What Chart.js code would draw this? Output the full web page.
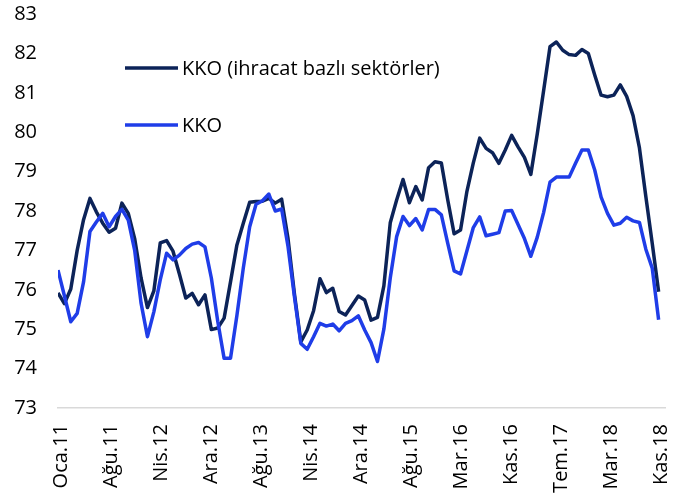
<!DOCTYPE html>
<html><head><meta charset="utf-8">
<script src="https://cdn.jsdelivr.net/npm/chart.js@4/dist/chart.umd.min.js"></script>
<style>html,body{margin:0;padding:0;background:#fff}#wrap{width:684px;height:493px}</style>
</head><body><div id="wrap"><canvas id="c" width="684" height="493"></canvas></div>
<script>
const monthNames = ['Oca','Şub','Mar','Nis','May','Haz','Tem','Ağu','Eyl','Eki','Kas','Ara'];
const years = [11,12,13,14,15,16,17,18];
const categories = [];
years.forEach(y => monthNames.forEach((m, k) => { if (!(y === 18 && k > 10)) categories.push(m + '.' + y); }));

const tickLabels = ['Oca.11','Ağu.11','Nis.12','Ara.12','Ağu.13','Nis.14','Ara.14','Ağu.15','Mar.16','Kas.16','Tem.17','Mar.18','Kas.18'];
const yTicks = [73,74,75,76,77,78,79,80,81,82,83];

const seriesNames = ['KKO (ihracat bazlı sektörler)', 'KKO'];

const kkoIhracat = [75.92,75.65,76.02,77.0,77.78,78.32,77.98,77.69,77.46,77.56,
78.2,77.94,77.3,76.3,75.55,75.97,77.19,77.25,76.98,76.4,
75.79,75.91,75.62,75.87,74.99,75.03,75.28,76.2,77.14,77.69,
78.22,78.24,78.25,78.32,78.2,78.3,77.3,75.9,74.68,74.98,
75.47,76.28,75.93,76.04,75.45,75.36,75.6,75.84,75.74,75.23,
75.3,76.1,77.7,78.28,78.8,78.21,78.62,78.28,79.1,79.25,
79.22,78.28,77.42,77.52,78.5,79.22,79.85,79.59,79.48,79.21,
79.55,79.92,79.63,79.36,78.93,79.95,81.05,82.17,82.29,82.08,
81.97,81.95,82.1,82.0,81.45,80.94,80.9,80.94,81.2,80.91,
80.42,79.6,78.37,77.18,75.95];

const kko = [76.5,75.85,75.19,75.4,76.2,77.48,77.72,77.94,77.6,77.86,
78.04,77.77,77.0,75.66,74.81,75.44,76.25,76.93,76.76,76.88,
77.05,77.16,77.2,77.09,76.3,75.2,74.26,74.26,75.35,76.55,
77.6,78.17,78.26,78.43,78.0,78.05,77.1,75.83,74.64,74.49,
74.81,75.15,75.08,75.13,74.96,75.15,75.22,75.34,74.98,74.66,
74.18,75.0,76.3,77.35,77.86,77.63,77.81,77.52,78.04,78.04,
77.9,77.18,76.48,76.4,76.99,77.58,77.85,77.37,77.41,77.45,
78.0,78.01,77.66,77.3,76.85,77.33,77.96,78.73,78.86,78.86,
78.86,79.21,79.55,79.55,79.04,78.35,77.94,77.64,77.69,77.84,
77.75,77.71,77.03,76.55,75.24];

const FONT = '"Open Sans", "Noto Sans", sans-serif';
const FS = 20;
const toPoints = arr => arr.map((v, i) => ({ x: i, y: v, label: categories[i] }));

const legendPlugin = {
  id: 'sideLegend',
  afterDraw(chart) {
    const c = chart.ctx;
    const ys = [68, 125];
    chart.data.datasets.forEach((ds, k) => {
      const y = ys[k];
      c.save();
      c.strokeStyle = ds.borderColor;
      c.lineWidth = ds.borderWidth;
      c.beginPath(); c.moveTo(125, y); c.lineTo(178, y); c.stroke();
      c.fillStyle = '#000';
      c.font = FS + 'px ' + FONT;
      c.textBaseline = 'middle';
      c.textAlign = 'left';
      c.fillText(ds.label, 182, y + 1);
      c.restore();
    });
  }
};

new Chart(document.getElementById('c'), {
  type: 'line',
  data: {
    datasets: [
      { label: seriesNames[0], data: toPoints(kkoIhracat), borderColor: '#0c2358', borderWidth: 3.5, pointRadius: 0, tension: 0, order: 1, borderJoinStyle: 'round' },
      { label: seriesNames[1], data: toPoints(kko), borderColor: '#1f3de8', borderWidth: 3.5, pointRadius: 0, tension: 0, order: 0, borderJoinStyle: 'round' }
    ]
  },
  options: {
    responsive: false,
    animation: false,
    devicePixelRatio: 1,
    layout: { padding: { left: 0, right: 19, top: 14, bottom: 0 } },
    plugins: { legend: { display: false }, tooltip: { enabled: false } },
    scales: {
      x: {
        type: 'linear', min: 0, max: 95,
        grid: { display: false, drawTicks: false },
        border: { display: true, color: '#d9d9d9', width: 1.5 },
        afterBuildTicks: s => { s.ticks = tickLabels.map((l, k) => ({ value: 0.45 + k * (categories.length - 1) / (tickLabels.length - 1) })); },
        afterFit: s => { s.height = 85; s.paddingLeft = 0; s.paddingRight = 0; s.paddingTop = 0; s.paddingBottom = 0; },
        ticks: {
          autoSkip: false, minRotation: 90, maxRotation: 90, padding: 16,
          color: '#000', font: { family: FONT, size: FS },
          callback: (v, i) => tickLabels[i]
        }
      },
      y: {
        min: yTicks[0], max: yTicks[yTicks.length - 1],
        grid: { display: false, drawTicks: false },
        border: { display: false },
        afterBuildTicks: s => { s.ticks = yTicks.map(v => ({ value: v })); },
        afterFit: s => { s.width = 58; s.paddingLeft = 0; s.paddingRight = 0; s.paddingTop = 0; s.paddingBottom = 0; },
        ticks: { padding: 21, color: '#000', font: { family: FONT, size: FS } }
      }
    }
  },
  plugins: [legendPlugin]
});
</script>
</body></html>
